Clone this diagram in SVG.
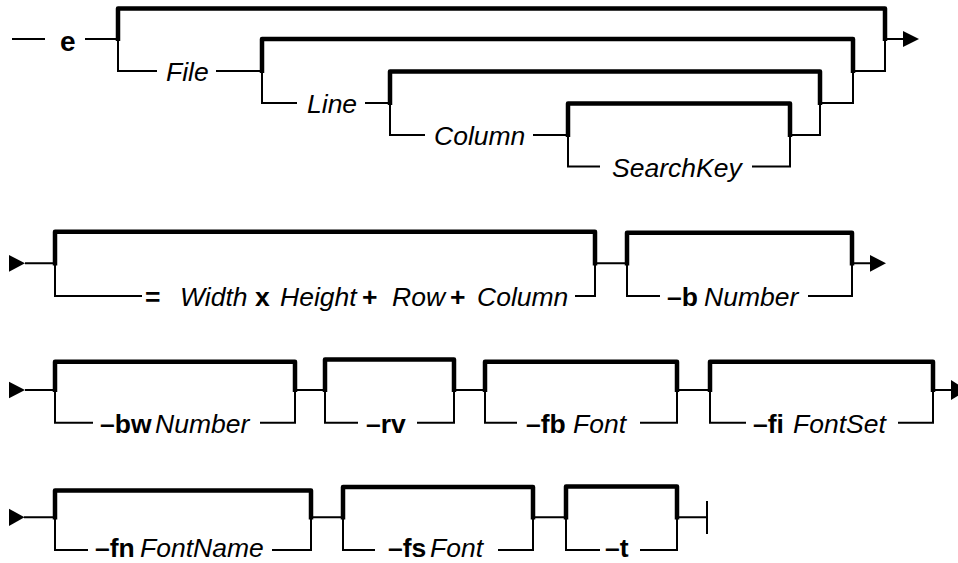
<svg xmlns="http://www.w3.org/2000/svg" width="958" height="563" viewBox="0 0 958 563">
<style>
  .thin{fill:none;stroke:#000;stroke-width:2;stroke-linejoin:miter;stroke-linecap:butt}
  .thick{fill:none;stroke:#000;stroke-width:4.5;stroke-linejoin:round;stroke-linecap:butt}
  .arr{fill:#000;stroke:none}
  text{font-family:"Liberation Sans",Arial,Helvetica,sans-serif;font-size:26.5px;fill:#000}
  .b{font-weight:bold}
  .i{font-style:italic}
  .big{font-size:28px}
</style>
<rect width="958" height="563" fill="#fff"/>
<g id="connectors">
  <!-- Row 1 -->
  <path class="thin" d="M12,39 H45 M85,39 H118 V71 H157 M216,71 H262 V103 H297 M365,103 H390 V135 H425 M533,135 H568 V166.5 H600 M752,166.5 H790 V135 H820 V103 H853 V71 H885 V39 H905"/>
  <path class="thick" d="M118,41 V8.5 H885 V41"/>
  <path class="thick" d="M262,73 V39 H853 V73"/>
  <path class="thick" d="M390,105 V71.5 H820 V105"/>
  <path class="thick" d="M568,137 V103.5 H790 V137"/>
  <polygon class="arr" points="903,31 919,39 903,47"/>
  <!-- Row 2 -->
  <polygon class="arr" points="9,255 25,263.3 9,271.7"/>
  <path class="thin" d="M25,263.3 H55 V296 H142 M575,296 H595 V263.3 H627 V296 H660 M808,296 H852 V263.3 H872"/>
  <path class="thick" d="M55,265.5 V231.7 H595 V265.5"/>
  <path class="thick" d="M627,265.5 V232.7 H852 V265.5"/>
  <polygon class="arr" points="870,255 886,263.3 870,271.7"/>
  <!-- Row 3 -->
  <polygon class="arr" points="9,381.7 25,390 9,398.3"/>
  <path class="thin" d="M25,390 H55 V422.7 H93 M260,422.7 H295 V390 H325 V422.7 H358 M417,422.7 H454 V390 H485 V422.7 H517 M640,422.7 H677 V390 H710 V422.7 H746 M898,422.7 H933 V390 H952"/>
  <path class="thick" d="M55,392 V361.7 H295 V392"/>
  <path class="thick" d="M325,392 V359.5 H454 V392"/>
  <path class="thick" d="M485,392 V361.7 H677 V392"/>
  <path class="thick" d="M710,392 V361.7 H933 V392"/>
  <polygon class="arr" points="951,380 967,390 951,400"/>
  <!-- Row 4 -->
  <polygon class="arr" points="9,508.7 24.5,517.3 9,526"/>
  <path class="thin" d="M24,517.3 H55 V550 H88 M272,550 H311 V517.3 H343 V550 H375 M498,550 H533 V517.3 H566 V550 H600 M640,550 H677 V517.3 H707 M707,501 V534"/>
  <path class="thick" d="M55,519.5 V490.5 H311 V519.5"/>
  <path class="thick" d="M343,519.5 V487 H533 V519.5"/>
  <path class="thick" d="M566,519.5 V486.5 H677 V519.5"/>
</g>
<g id="n-e"><text class="b big" x="60" y="51">e</text></g>
<g id="n-file"><text class="i" x="166" y="81">File</text></g>
<g id="n-line"><text class="i" x="307" y="113">Line</text></g>
<g id="n-column1"><text class="i" x="434" y="145">Column</text></g>
<g id="n-searchkey"><text class="i" x="612" y="176.5">SearchKey</text></g>
<g id="n-geometry"><text x="145" y="306"><tspan class="b">=</tspan><tspan class="i" x="180">Width</tspan><tspan class="b" x="255">x</tspan><tspan class="i" x="280">Height</tspan><tspan class="b" x="362">+</tspan><tspan class="i" x="392">Row</tspan><tspan class="b" x="450">+</tspan><tspan class="i" x="477">Column</tspan></text></g>
<g id="n-b"><text x="667" y="306"><tspan class="b">–b</tspan><tspan class="i" x="704">Number</tspan></text></g>
<g id="n-bw"><text x="100" y="432.5"><tspan class="b">–bw</tspan><tspan class="i" x="155">Number</tspan></text></g>
<g id="n-rv"><text class="b" x="366" y="432.5">–rv</text></g>
<g id="n-fb"><text x="526" y="432.5"><tspan class="b">–fb</tspan><tspan class="i" x="573">Font</tspan></text></g>
<g id="n-fi"><text x="753" y="432.5"><tspan class="b">–fi</tspan><tspan class="i" x="793">FontSet</tspan></text></g>
<g id="n-fn"><text x="95" y="557"><tspan class="b">–fn</tspan><tspan class="i" x="140">FontName</tspan></text></g>
<g id="n-fs"><text x="388" y="557"><tspan class="b">–fs</tspan><tspan class="i" x="430">Font</tspan></text></g>
<g id="n-t"><text class="b" x="605" y="557">–t</text></g>
</svg>
